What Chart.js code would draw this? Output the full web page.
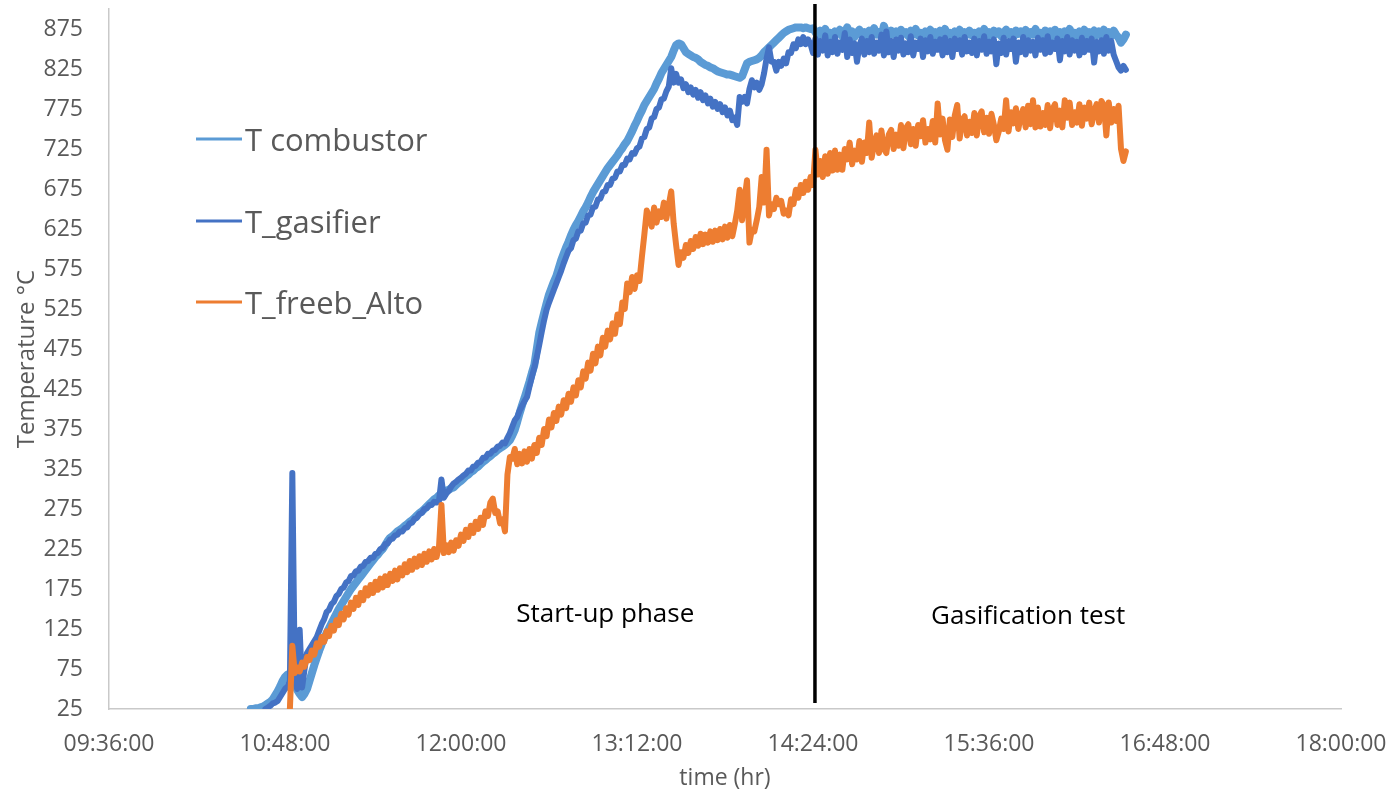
<!DOCTYPE html>
<html>
<head>
<meta charset="utf-8">
<title>Temperature during start-up and gasification</title>
<script src="https://cdn.jsdelivr.net/npm/chart.js@4.4.1/dist/chart.umd.min.js"></script>
<style>
  html, body { margin: 0; padding: 0; background: #ffffff; }
  #wrap { width: 1394px; height: 798px; }
</style>
</head>
<body>
<div id="wrap"><canvas id="chart" width="1394" height="798"></canvas></div>
<script>
// Logged temperatures, one sample per minute starting at seriesStart.
const seriesStart = '10:33';

const combustorTemps = [
  null, 25, 25, 26, 26, 27, 28, 30, 32, 34,
  37, 42, 47, 53, 60, 65, 68, 69, 66, 56,
  49, 44, 40, 44, 50, 60, 70, 80, 89, 98,
  106, 113, 120, 126, 132, 138, 144, 150, 155, 160,
  165, 170, 175, 179, 183, 187, 191, 195, 199, 203,
  207, 211, 215, 218, 222, 225, 230, 235, 239, 241,
  244, 247, 249, 251, 254, 256, 259, 261, 264, 267,
  270, 272, 275, 278, 281, 284, 287, 289, 292, 294,
  296, 298, 299, 301, 302, 305, 308, 310, 313, 316,
  318, 321, 323, 326, 328, 331, 334, 336, 339, 341,
  344, 346, 349, 351, 353, 355, 358, 361, 367, 374,
  384, 395, 405, 414, 424, 434, 445, 455, 475, 495,
  508, 520, 532, 543, 551, 559, 566, 576, 586, 594,
  602, 609, 617, 624, 630, 635, 641, 647, 652, 658,
  665, 671, 676, 681, 686, 691, 696, 701, 705, 709,
  713, 717, 722, 726, 731, 735, 741, 747, 754, 760,
  767, 773, 780, 785, 790, 795, 800, 807, 813, 820,
  825, 830, 835, 840, 848, 855, 857, 856, 851, 846,
  844, 842, 840, 839, 837, 834, 832, 830, 829, 827,
  826, 824, 822, 821, 820, 819, 818, 818, 817, 816,
  815, 814, 816, 824, 832, 834, 835, 836, 837, 839,
  842, 846, 849, 852, 855, 858, 861, 864, 867, 870,
  872, 874, 875, 876, 877, 877, 877, 876, 877, 876,
  875, 876, 871, 866, 873, 868, 875, 867, 870, 864,
  872, 869, 874, 866, 871, 877, 868, 872, 865, 870,
  874, 867, 871, 866, 873, 869, 876, 868, 871, 865,
  879, 870, 866, 873, 868, 872, 866, 874, 869, 871,
  866, 873, 868, 875, 867, 870, 864, 872, 869, 874,
  867, 871, 866, 873, 869, 875, 868, 870, 865, 872,
  869, 874, 866, 871, 868, 873, 867, 870, 864, 872,
  868, 875, 867, 871, 866, 873, 869, 872, 866, 870,
  874, 868, 871, 865, 873, 869, 872, 867, 874, 866,
  871, 868, 875, 867, 870, 864, 873, 869, 872, 866,
  874, 868, 871, 866, 872, 869, 875, 867, 870, 865,
  872, 868, 874, 866, 871, 869, 873, 867, 872, 868,
  874, 867, 871, 866, 873, 868, 864, 858, 862, 868
];

const gasifierTemps = [
  null, null, null, null, null, null, null, 25, 27, 29,
  32, 33, 35, 40, 45, 50, 53, 60, 320, 62,
  50, 124, 52, 75, 95, 100, 105, 110, 115, 123,
  131, 137, 146, 149, 156, 159, 166, 169, 175, 177,
  183, 185, 191, 192, 197, 198, 203, 204, 209, 210,
  214, 214, 219, 220, 225, 226, 231, 232, 237, 238,
  242, 243, 247, 247, 251, 252, 257, 258, 263, 264,
  269, 270, 275, 276, 280, 280, 284, 283, 285, 312,
  289, 294, 298, 303, 307, 309, 312, 314, 317, 319,
  323, 323, 328, 329, 333, 334, 339, 339, 344, 344,
  348, 349, 353, 354, 358, 357, 364, 370, 378, 386,
  390, 398, 404, 410, 415, 428, 440, 452, 465, 480,
  496, 511, 524, 533, 541, 549, 557, 565, 573, 582,
  590, 598, 601, 611, 613, 622, 623, 632, 633, 642,
  643, 652, 653, 662, 663, 671, 672, 680, 680, 688,
  689, 697, 697, 705, 705, 713, 712, 720, 719, 726,
  728, 738, 740, 750, 752, 763, 765, 775, 777, 787,
  788, 797, 803, 826, 808, 819, 808, 812, 801, 806,
  796, 802, 793, 799, 789, 796, 786, 792, 782, 788,
  778, 784, 775, 781, 771, 777, 767, 773, 761, 764,
  755, 790, 784, 790, 782, 800, 811, 802, 808, 799,
  806, 820, 838, 852, 834, 834, 823, 834, 829, 838,
  832, 846, 845, 856, 851, 862, 856, 865, 856, 862,
  856, 845, 863, 843, 860, 848, 867, 842, 859, 846,
  865, 844, 858, 849, 870, 840, 862, 845, 857, 834,
  855, 863, 843, 860, 846, 865, 844, 858, 848, 868,
  842, 872, 846, 860, 840, 862, 848, 864, 843, 857,
  846, 866, 842, 858, 850, 863, 840, 861, 847, 865,
  844, 859, 849, 862, 842, 864, 846, 860, 840, 863,
  850, 861, 843, 865, 847, 858, 845, 863, 842, 860,
  849, 866, 844, 859, 847, 862, 831, 857, 845, 864,
  843, 860, 850, 863, 834, 858, 846, 865, 843, 861,
  848, 859, 842, 864, 849, 861, 844, 866, 846, 858,
  850, 863, 836, 860, 847, 865, 843, 861, 848, 859,
  842, 864, 846, 860, 849, 863, 833, 859, 847, 861,
  844, 865, 848, 860, 843, 835, 827, 823, 829, 824
];

const freeboardTemps = [
  null, null, null, null, null, null, null, null, null, null,
  null, null, null, null, null, null, null, 25, 104, 70,
  77, 72, 83, 78, 90, 86, 98, 93, 107, 103,
  115, 109, 122, 116, 129, 123, 136, 130, 144, 137,
  151, 143, 158, 150, 164, 155, 170, 161, 176, 167,
  180, 170, 184, 174, 188, 177, 191, 180, 194, 185,
  198, 187, 201, 192, 206, 196, 210, 199, 213, 203,
  216, 205, 219, 209, 222, 212, 225, 215, 228, 280,
  220, 230, 221, 233, 223, 236, 229, 243, 235, 249,
  240, 254, 245, 259, 250, 264, 255, 272, 266, 283,
  288, 270, 272, 257, 262, 247, 318, 340, 338, 350,
  331, 344, 332, 347, 334, 350, 338, 355, 345, 364,
  355, 375, 366, 387, 377, 395, 385, 403, 393, 411,
  401, 419, 409, 427, 417, 436, 427, 447, 438, 458,
  448, 469, 457, 478, 467, 489, 478, 498, 487, 507,
  494, 518, 506, 533, 525, 557, 546, 565, 550, 567,
  560, 590, 618, 648, 640, 628, 652, 633, 647, 640,
  658, 638, 655, 672, 632, 605, 580, 596, 589, 605,
  595, 610, 600, 615, 604, 619, 606, 618, 608, 622,
  609, 623, 611, 625, 612, 628, 614, 630, 616, 631,
  648, 674, 636, 662, 686, 608, 624, 622, 636, 652,
  690, 658, 724, 642, 656, 650, 664, 656, 660, 644,
  648, 642, 662, 656, 674, 664, 680, 670, 684, 674,
  690, 680, 724, 693, 710, 690, 716, 694, 720, 698,
  723, 699, 718, 699, 725, 712, 733, 706, 723, 712,
  735, 709, 733, 720, 758, 714, 732, 742, 720, 748,
  725, 720, 743, 749, 725, 743, 729, 755, 726, 751,
  756, 731, 750, 729, 755, 741, 761, 733, 750, 737,
  760, 733, 782, 743, 763, 736, 724, 762, 740, 767,
  780, 738, 761, 766, 742, 759, 745, 770, 742, 766,
  772, 746, 764, 744, 769, 755, 736, 747, 763, 750,
  786, 747, 771, 757, 776, 750, 766, 775, 752, 779,
  756, 786, 752, 777, 753, 770, 755, 780, 751, 775,
  781, 755, 773, 752, 786, 764, 783, 755, 771, 758,
  781, 754, 777, 763, 783, 756, 772, 781, 758, 785,
  780, 742, 783, 758, 775, 760, 779, 725, 710, 722
];

const seriesNames = ['T combustor', 'T_gasifier', 'T_freeb_Alto'];
const seriesColors = ['#5b9bd5', '#4472c4', '#ed7d31'];

const xTickLabels = ['09:36:00', '10:48:00', '12:00:00', '13:12:00', '14:24:00', '15:36:00', '16:48:00', '18:00:00'];
const yTickValues = [25, 75, 125, 175, 225, 275, 325, 375, 425, 475, 525, 575, 625, 675, 725, 775, 825, 875];

// Switch from start-up to the gasification test, and the two phase captions
const phaseBoundary = '14:24:48';
const phaseCaptions = ['Start-up phase', 'Gasification test'];
const phaseCaptionTimes = ['12:59:00', '15:52:00'];
const phaseCaptionTemps = [143, 140];

function toMinutes(hms) {
  const p = hms.split(':').map(Number);
  return p[0] * 60 + p[1] + (p[2] || 0) / 60;
}
function toClock(min) {
  const h = Math.floor(min / 60), m = Math.round(min % 60);
  return String(h).padStart(2, '0') + ':' + String(m).padStart(2, '0') + ':00';
}
function toPoints(temps) {
  const t0 = toMinutes(seriesStart);
  return temps.map((v, i) => ({ x: t0 + i, y: v }));
}

const FONT = "'Open Sans', 'DejaVu Sans', sans-serif";
const AXIS_GREY = '#595959';

// Legend drawn as a column inside the plot area
const sideLegend = {
  id: 'sideLegend',
  afterDraw(chart) {
    const ctx = chart.ctx;
    const lineY = [139, 221, 302];
    ctx.save();
    ctx.font = '31px ' + FONT;
    ctx.textBaseline = 'alphabetic';
    ctx.textAlign = 'left';
    chart.data.datasets.forEach((ds, i) => {
      ctx.strokeStyle = ds.borderColor;
      ctx.lineWidth = 3;
      ctx.beginPath();
      ctx.moveTo(196, lineY[i]);
      ctx.lineTo(242, lineY[i]);
      ctx.stroke();
      ctx.fillStyle = AXIS_GREY;
      ctx.fillText(ds.label, 245, lineY[i] + 12);
    });
    ctx.restore();
  }
};

// Vertical separator between the phases plus their captions
const phaseMarker = {
  id: 'phaseMarker',
  afterDatasetsDraw(chart) {
    const { ctx, chartArea, scales } = chart;
    const x = scales.x.getPixelForValue(toMinutes(phaseBoundary));
    ctx.save();
    ctx.strokeStyle = '#000000';
    ctx.lineWidth = 3.5;
    ctx.beginPath();
    ctx.moveTo(x, chartArea.top - 5);
    ctx.lineTo(x, chartArea.bottom - 6);
    ctx.stroke();
    ctx.fillStyle = '#000000';
    ctx.font = '26px ' + FONT;
    ctx.textAlign = 'center';
    ctx.textBaseline = 'middle';
    phaseCaptions.forEach((txt, i) => {
      ctx.fillText(txt,
        scales.x.getPixelForValue(toMinutes(phaseCaptionTimes[i])),
        scales.y.getPixelForValue(phaseCaptionTemps[i]));
    });
    ctx.restore();
  }
};

const temps = [combustorTemps, gasifierTemps, freeboardTemps];
const widths = [8, 6, 6];
const drawOrder = [3, 2, 1];

new Chart(document.getElementById('chart'), {
  type: 'line',
  data: {
    datasets: temps.map((arr, i) => ({
      label: seriesNames[i],
      data: toPoints(arr),
      borderColor: seriesColors[i],
      backgroundColor: seriesColors[i],
      borderWidth: widths[i],
      borderJoinStyle: 'round',
      borderCapStyle: 'round',
      pointRadius: 0,
      tension: 0,
      fill: false,
      order: drawOrder[i]
    }))
  },
  options: {
    responsive: false,
    animation: false,
    events: [],
    layout: { padding: { left: 0, right: 53, top: 9, bottom: 0 } },
    plugins: {
      legend: { display: false },
      tooltip: { enabled: false }
    },
    scales: {
      x: {
        type: 'linear',
        min: toMinutes(xTickLabels[0]),
        max: toMinutes(xTickLabels[xTickLabels.length - 1]),
        afterBuildTicks: (s) => { s.ticks = xTickLabels.map(l => ({ value: toMinutes(l) })); },
        afterFit: (s) => { s.height = 89; s.paddingLeft = 0; s.paddingRight = 0; },
        grid: { display: false, drawTicks: false },
        border: { display: true, color: '#c9c9c9', width: 1.5 },
        ticks: {
          callback: (v) => toClock(v),
          color: AXIS_GREY,
          font: { family: FONT, size: 23 },
          padding: 22,
          maxRotation: 0,
          autoSkip: false
        },
        title: {
          display: true,
          text: 'time (hr)',
          color: AXIS_GREY,
          font: { family: FONT, size: 23 },
          padding: { top: 0, bottom: 6 }
        }
      },
      y: {
        type: 'linear',
        min: 25,
        max: 900,
        afterBuildTicks: (s) => { s.ticks = yTickValues.map(v => ({ value: v })); },
        afterFit: (s) => { s.width = 109; s.paddingTop = 0; s.paddingBottom = 0; },
        grid: { display: false, drawTicks: false },
        border: { display: true, color: '#c9c9c9', width: 1.5 },
        ticks: {
          color: AXIS_GREY,
          font: { family: FONT, size: 23 },
          padding: 26
        },
        title: {
          display: true,
          text: 'Temperature °C',
          color: AXIS_GREY,
          font: { family: FONT, size: 24 },
          padding: { top: 13, bottom: 13 }
        }
      }
    }
  },
  plugins: [sideLegend, phaseMarker]
});
</script>
</body>
</html>
